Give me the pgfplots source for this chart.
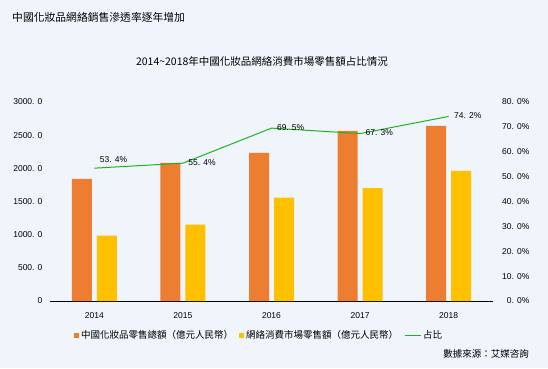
\documentclass[border=0pt]{standalone}
\usepackage{fontspec}
\setmainfont{Liberation Sans}
\newfontfamily\cjk{Noto Sans CJK TC}
\usepackage{pgfplots}
\pgfplotsset{compat=1.18}
\definecolor{bg}{RGB}{239,245,250}
\definecolor{orangebar}{RGB}{237,125,49}
\definecolor{yellowbar}{RGB}{255,192,0}
\definecolor{greenline}{RGB}{30,180,30}
\begin{document}
\begin{tikzpicture}[x=1pt,y=1pt]
\fill[bg] (0,0) rectangle (548,368);
\node[anchor=west, inner sep=0pt, font=\cjk\fontsize{10.8}{13}\selectfont] at (12,351) {中國化妝品網絡銷售滲透率逐年增加};
\node[inner sep=0pt, font=\cjk\fontsize{10.5}{12}\selectfont] at (262,306) {2014\textasciitilde2018年中國化妝品網絡消費市場零售額占比情況};
\node[anchor=east, inner sep=0pt, font=\cjk\fontsize{9.5}{11}\selectfont] at (529,14) {數據來源：艾媒咨詢};
\begin{axis}[
  at={(94.3pt,67pt)}, anchor=origin, scale only axis,
  width=443pt, height=199pt,
  xmin=-0.5, xmax=4.5, ymin=0, ymax=3000,
  axis x line*=bottom, axis y line*=left,
  y axis line style={draw=none},
  x axis line style={black, line width=0.8pt, -},
  major tick length=0pt,
  xtick={0,1,2,3,4}, xticklabels={2014,2015,2016,2017,2018},
  ytick={0,500,1000,1500,2000,2500,3000},
  yticklabels={0,500. 0,1000. 0,1500. 0,2000. 0,2500. 0,3000. 0},
  tick label style={font=\fontsize{8.5}{10}\selectfont},
  xticklabel style={yshift=-8pt},
  yticklabel style={xshift=-4pt},
  /pgf/number format/assume math mode=true,
  legend columns=3,
  legend style={at={(0.472,-0.171)}, anchor=center, draw=none, fill=none,
    font=\cjk\fontsize{9.5}{11}\selectfont,
    /tikz/every even column/.append style={column sep=4pt}},
]
\addplot[ybar, bar width=20pt, bar shift=-12.5pt, fill=orangebar, draw=none,
  legend image code/.code={\fill[orangebar] (0pt,-2.5pt) rectangle (5pt,2.5pt);}]
  coordinates {(0,1840) (1,2081) (2,2232) (3,2564) (4,2640)};
\addlegendentry{中國化妝品零售總額（億元人民幣）}
\addplot[ybar, bar width=20pt, bar shift=12.5pt, fill=yellowbar, draw=none,
  legend image code/.code={\fill[yellowbar] (0pt,-2.5pt) rectangle (5pt,2.5pt);}]
  coordinates {(0,985) (1,1150) (2,1560) (3,1700) (4,1960)};
\addlegendentry{網絡消費市場零售額（億元人民幣）}
\addlegendimage{greenline, line width=1pt, legend image code/.code={\draw[greenline, line width=1pt] (0pt,0pt) -- (16pt,0pt);}}
\addlegendentry{占比}
\end{axis}
\begin{axis}[
  at={(94.3pt,67pt)}, anchor=origin, scale only axis,
  width=443pt, height=199pt,
  xmin=-0.5, xmax=4.5, ymin=0, ymax=80,
  axis x line=none, axis y line*=right,
  y axis line style={draw=none},
  major tick length=0pt,
  ytick={0,10,20,30,40,50,60,70,80},
  yticklabels={0. 0\%,10. 0\%,20. 0\%,30. 0\%,40. 0\%,50. 0\%,60. 0\%,70. 0\%,80. 0\%},
  tick label style={font=\fontsize{8.5}{10}\selectfont},
  yticklabel style={anchor=east, xshift=40pt},
  /pgf/number format/assume math mode=true,
]
\addplot[greenline, line width=1pt] coordinates {(0,53.4) (1,55.4) (2,69.5) (3,67.3) (4,74.2)};
\addplot[draw=none, point meta=explicit symbolic, nodes near coords,
  every node near coord/.append style={anchor=west, xshift=2pt, yshift=9pt, font=\fontsize{8.5}{10}\selectfont}]
  coordinates {(0,53.4) [53. 4\%]};
\addplot[draw=none, point meta=explicit symbolic, nodes near coords,
  every node near coord/.append style={anchor=west, xshift=2pt, yshift=1pt, font=\fontsize{8.5}{10}\selectfont}]
  coordinates {(1,55.4) [55. 4\%] (2,69.5) [69. 5\%] (3,67.3) [67. 3\%] (4,74.2) [74. 2\%]};
\end{axis}
\end{tikzpicture}
\end{document}
